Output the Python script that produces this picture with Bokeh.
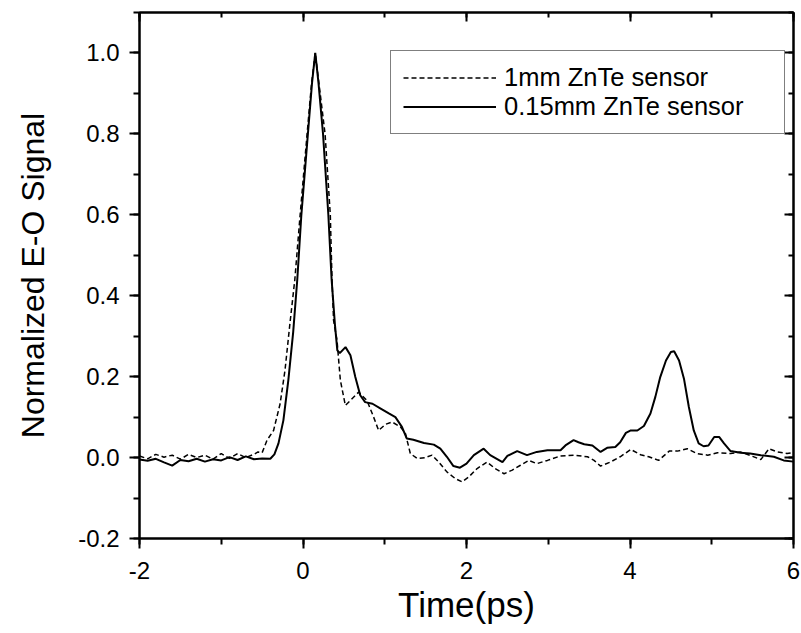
from bokeh.plotting import figure
from bokeh.models import (LinearAxis, SingleIntervalTicker, NumeralTickFormatter,
                          Legend, LegendItem, Range1d, ColumnDataSource)
from bokeh.embed import file_html
from bokeh.resources import INLINE

# 0.15mm ZnTe sensor (solid)
t_thin = [-2.00, -1.90, -1.80, -1.70, -1.60, -1.50, -1.40, -1.30, -1.20, -1.10, -1.00, -0.90,
          -0.80, -0.70, -0.60, -0.50, -0.40, -0.35, -0.30, -0.24, -0.18, -0.12, -0.07, -0.02,
          0.06, 0.11, 0.15, 0.19, 0.245, 0.31, 0.35, 0.39, 0.42, 0.45, 0.52, 0.58, 0.64, 0.70,
          0.76, 0.85, 0.95, 1.05, 1.13, 1.21, 1.27, 1.35, 1.48, 1.60, 1.68, 1.76, 1.84, 1.92,
          2.00, 2.09, 2.21, 2.29, 2.44, 2.50, 2.62, 2.74, 2.86, 2.99, 3.15, 3.21, 3.31, 3.37,
          3.44, 3.54, 3.64, 3.72, 3.82, 3.88, 3.95, 4.01, 4.09, 4.17, 4.25, 4.31, 4.37, 4.44,
          4.50, 4.54, 4.60, 4.66, 4.72, 4.78, 4.84, 4.90, 4.96, 5.03, 5.09, 5.15, 5.23, 5.35,
          5.47, 5.60, 5.76, 5.88, 6.00]
s_thin = [-0.005, -0.008, -0.003, -0.012, -0.020, -0.006, -0.009, -0.003, -0.010, -0.004, -0.007, 0.001,
          -0.006, 0.003, -0.004, -0.002, -0.003, 0.008, 0.035, 0.092, 0.19, 0.31, 0.44, 0.60,
          0.80, 0.925, 1.00, 0.925, 0.80, 0.60, 0.44, 0.33, 0.265, 0.258, 0.273, 0.253, 0.199, 0.154,
          0.137, 0.133, 0.121, 0.109, 0.100, 0.076, 0.047, 0.044, 0.036, 0.032, 0.022, 0.002, -0.021, -0.025,
          -0.015, 0.006, 0.022, 0.006, -0.011, 0.004, 0.016, 0.006, 0.014, 0.018, 0.018, 0.030, 0.043, 0.038,
          0.033, 0.030, 0.014, 0.024, 0.026, 0.038, 0.061, 0.067, 0.067, 0.078, 0.109, 0.150, 0.199, 0.240,
          0.261, 0.263, 0.240, 0.195, 0.125, 0.067, 0.035, 0.028, 0.030, 0.051, 0.051, 0.035, 0.016, 0.012,
          0.010, 0.006, 0.002, -0.007, -0.010]

# 1mm ZnTe sensor (dashed)
t_thick = [-2.00, -1.90, -1.80, -1.70, -1.60, -1.50, -1.40, -1.30, -1.20, -1.10, -1.00, -0.90,
           -0.80, -0.70, -0.60, -0.55, -0.50, -0.44, -0.36, -0.28, -0.22, -0.16, -0.10, -0.035,
           0.05, 0.105, 0.15, 0.195, 0.27, 0.334, 0.355, 0.374, 0.416, 0.457, 0.518, 0.579, 0.681,
           0.783, 0.864, 0.925, 1.007, 1.089, 1.191, 1.252, 1.313, 1.395, 1.497, 1.579, 1.660,
           1.763, 1.864, 1.946, 2.027, 2.13, 2.25, 2.35, 2.46, 2.56, 2.66, 2.76, 2.86, 2.99, 3.15,
           3.31, 3.48, 3.56, 3.64, 3.76, 3.88, 4.01, 4.13, 4.23, 4.35, 4.48, 4.58, 4.70, 4.82,
           4.95, 5.07, 5.23, 5.35, 5.50, 5.60, 5.70, 5.80, 5.92, 6.00]
s_thick = [0.004, -0.003, 0.008, 0.001, 0.006, -0.004, 0.008, 0.000, 0.006, -0.004, 0.010, -0.002,
           0.010, 0.000, 0.008, 0.014, 0.012, 0.043, 0.067, 0.133, 0.216, 0.331, 0.44, 0.60,
           0.80, 0.925, 1.00, 0.925, 0.80, 0.60, 0.44, 0.339, 0.29, 0.191, 0.129, 0.141, 0.162,
           0.141, 0.100, 0.067, 0.082, 0.088, 0.076, 0.060, 0.010, -0.002, 0.000, 0.006, -0.011,
           -0.036, -0.052, -0.060, -0.048, -0.027, -0.011, -0.027, -0.040, -0.031, -0.019, -0.007, -0.015, -0.007, 0.004,
           0.006, 0.002, -0.007, -0.021, -0.011, 0.002, 0.020, 0.007, 0.002, -0.007, 0.016, 0.016, 0.022, 0.010,
           0.006, 0.012, 0.010, 0.014, 0.003, -0.005, 0.022, 0.014, 0.010, 0.012]

legend_labels = ["1mm ZnTe sensor", "0.15mm ZnTe sensor"]
x_label = "Time(ps)"
y_label = "Normalized E-O Signal"

FONT = "Liberation Sans"

p = figure(frame_width=654, frame_height=526, output_backend="svg", toolbar_location=None,
           x_range=Range1d(-2, 6), y_range=Range1d(-0.2, 1.1),
           min_border_left=139, min_border_right=8, min_border_top=12, min_border_bottom=95)
p.background_fill_color = "white"
p.border_fill_color = "white"
p.outline_line_color = "black"
p.outline_line_width = 2
p.xgrid.visible = False
p.ygrid.visible = False

src_thick = ColumnDataSource(dict(t=t_thick, s=s_thick))
src_thin = ColumnDataSource(dict(t=t_thin, s=s_thin))
r_thick = p.line("t", "s", source=src_thick, line_color="black", line_width=1.5, line_dash="5 3")
r_thin = p.line("t", "s", source=src_thin, line_color="black", line_width=2)


def style_axis(ax, labels=True, inward=False):
    ax.axis_line_color = "black"
    ax.axis_line_width = 2
    ax.major_tick_line_width = 2
    ax.minor_tick_line_width = 2
    ax.major_tick_line_color = "black"
    ax.minor_tick_line_color = "black"
    if inward:
        ax.major_tick_in = 9
        ax.major_tick_out = 0
        ax.minor_tick_in = 5
        ax.minor_tick_out = 0
    else:
        ax.major_tick_in = 0
        ax.major_tick_out = 10
        ax.minor_tick_in = 0
        ax.minor_tick_out = 6
    if labels:
        ax.major_label_text_font = FONT
        ax.major_label_text_font_size = "24px"
        ax.major_label_text_color = "black"
        ax.axis_label_text_font = FONT
        ax.axis_label_text_font_style = "normal"
        ax.axis_label_text_color = "black"
    else:
        ax.major_label_text_font_size = "0px"
        ax.major_label_text_alpha = 0
        ax.major_label_standoff = 0


xb = p.xaxis[0]
xb.ticker = SingleIntervalTicker(interval=2, num_minor_ticks=2)
xb.formatter = NumeralTickFormatter(format="0")
style_axis(xb)
xb.axis_label = x_label
xb.axis_label_text_font_size = "35px"
xb.major_label_standoff = 13
xb.axis_label_standoff = 3

yl = p.yaxis[0]
yl.ticker = SingleIntervalTicker(interval=0.2, num_minor_ticks=2)
yl.formatter = NumeralTickFormatter(format="0.0")
style_axis(yl)
yl.axis_label = y_label
yl.axis_label_text_font_size = "32px"
yl.major_label_standoff = 10
yl.axis_label_standoff = 24

xt = LinearAxis(ticker=SingleIntervalTicker(interval=2, num_minor_ticks=2))
style_axis(xt, labels=False, inward=True)
p.add_layout(xt, "above")
yr = LinearAxis(ticker=SingleIntervalTicker(interval=0.2, num_minor_ticks=2))
style_axis(yr, labels=False, inward=True)
p.add_layout(yr, "right")

legend = Legend(items=[LegendItem(label=legend_labels[0], renderers=[r_thick]),
                       LegendItem(label=legend_labels[1], renderers=[r_thin])],
                location=(251, 404))
legend.label_text_font = FONT
legend.label_text_font_size = "25.5px"
legend.label_text_color = "black"
legend.border_line_color = "black"
legend.border_line_width = 1.5
legend.background_fill_color = "white"
legend.background_fill_alpha = 1
legend.padding = 12
legend.spacing = 0
legend.glyph_width = 93
legend.glyph_height = 29
legend.label_height = 29
legend.label_width = 268
legend.label_standoff = 8
legend.margin = 0
p.add_layout(legend, "center")

open("out.html", "w").write(file_html(p, INLINE))
